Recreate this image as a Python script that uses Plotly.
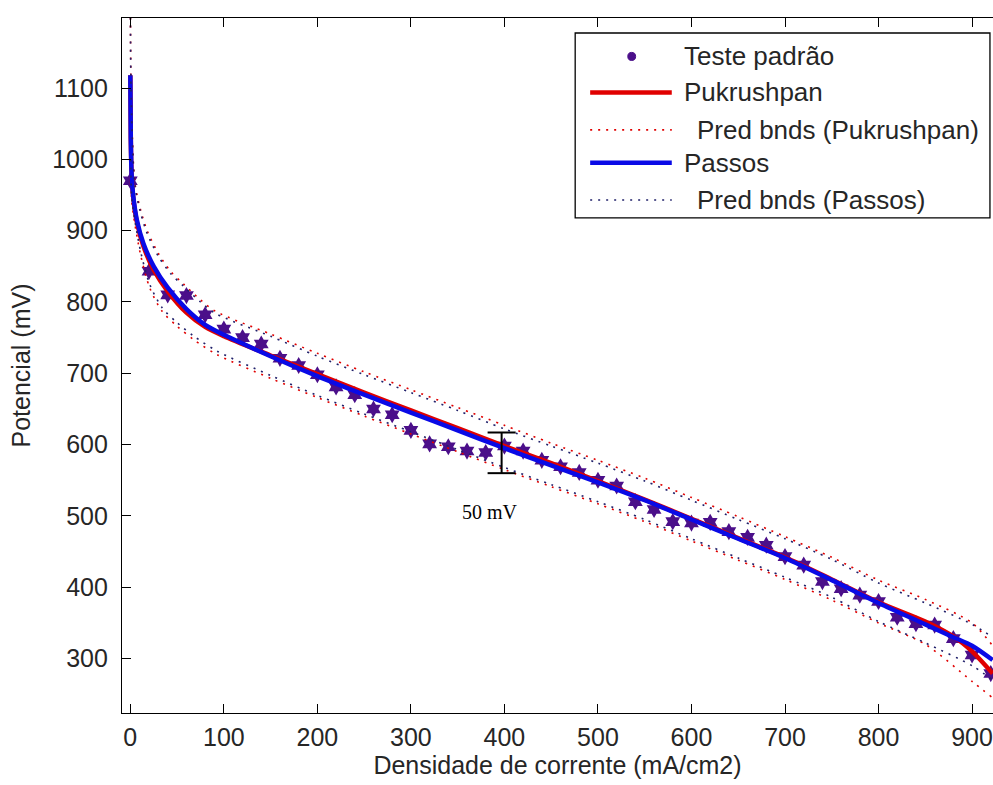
import plotly.graph_objects as go

# ---------------- data ----------------
test_x = [0, 20, 40, 60, 80, 100, 120, 140, 160, 180, 200, 220, 240, 260, 280,
          300, 320, 340, 360, 380, 400, 420, 440, 460, 480, 500, 520, 540, 560,
          580, 600, 620, 640, 660, 680, 700, 720, 740, 760, 780, 800, 820, 840,
          860, 880, 900, 920]
test_y = [970, 843, 810, 809, 782, 762, 750, 741, 721, 711, 698, 681, 670, 650, 642,
          620, 601, 597, 591, 589, 598, 591, 578, 569, 561, 550, 542, 520, 509,
          492, 490, 491, 478, 470, 459, 443, 431, 408, 398, 389, 380, 358, 349,
          347, 328, 305, 279]

curve_x = [0, 0.5, 1.5, 3, 7, 14, 25, 40, 60, 80, 100, 150, 200, 250, 300, 350,
           400, 450, 500, 550, 600, 650, 700, 750, 800, 850, 880, 900, 922]
passos_y = [1118, 1030, 975, 950, 915, 882, 850, 820, 790, 768, 754, 724, 696, 670,
            645, 620, 595, 571, 547, 522, 495, 468, 441, 410, 378, 348, 330, 318, 298]
pukrushpan_y = [1118, 1030, 975, 948, 912, 878, 845, 815, 785, 765, 752, 725, 699, 673,
                648, 623, 598, 574, 549, 523, 496, 469, 442, 411, 379, 352, 331, 310, 279]

bnd_x = [0, 1, 5, 11, 18, 30, 43, 57, 75, 91, 150, 200, 250, 300, 350, 400, 450,
         500, 550, 600, 650, 700, 750, 800, 850, 900, 922]
passos_up = [1300, 1080, 962, 925, 896, 864, 840, 822, 800, 784, 752, 724, 698, 673,
             648, 622, 598, 574, 549, 522, 495, 468, 439, 406, 378, 348, 330]
puk_up = [1300, 1085, 966, 929, 900, 868, 843, 825, 803, 787, 755, 728, 702, 677,
          652, 627, 602, 578, 553, 526, 499, 471, 442, 410, 383, 350, 318]

bnd_lo_x = [0.5, 1.8, 11, 21, 34, 50, 68, 93, 150, 200, 250, 300, 350, 400, 450,
            500, 550, 600, 650, 700, 750, 800, 850, 900, 922]
passos_lo = [1000, 943, 871, 824, 792, 771, 752, 731, 697, 669, 643, 618, 593, 568,
             544, 520, 495, 468, 441, 414, 386, 352, 322, 290, 270]
puk_lo = [995, 938, 866, 819, 787, 766, 747, 726, 693, 666, 640, 615, 590, 565,
          541, 517, 492, 465, 438, 411, 382, 350, 320, 268, 245]

x_ticks = [0, 100, 200, 300, 400, 500, 600, 700, 800, 900]
y_ticks = [300, 400, 500, 600, 700, 800, 900, 1000, 1100]

# scale-bar annotation ("50 mV")
bar_x, bar_lo, bar_hi, bar_half = 397, 560, 617, 15

# ---------------- styles ----------------
PURPLE = "#4B0F8A"
RED = "#E00000"
BLUE = "#0A0AE6"
FONT = "Liberation Sans, Arial, sans-serif"
TXT = "#262626"

fig = go.Figure()
fig.add_trace(go.Scatter(x=test_x, y=test_y, mode="markers", name="Teste padrão",
                         marker=dict(symbol="hexagram", size=13, color=PURPLE),
                         showlegend=False))
fig.add_trace(go.Scatter(x=curve_x, y=pukrushpan_y, mode="lines", name="Pukrushpan",
                         line=dict(color=RED, width=4.5, shape="spline", smoothing=0.8),
                         showlegend=False))
fig.add_trace(go.Scatter(x=bnd_x, y=puk_up, mode="lines", name="Pred bnds (Pukrushpan)",
                         line=dict(color=RED, width=1.6, dash="2px,6px", shape="spline", smoothing=0.8),
                         showlegend=False))
fig.add_trace(go.Scatter(x=bnd_lo_x, y=puk_lo, mode="lines", name="Pred bnds (Pukrushpan)",
                         line=dict(color=RED, width=1.6, dash="2px,6px", shape="spline", smoothing=0.8),
                         showlegend=False))
fig.add_trace(go.Scatter(x=curve_x, y=passos_y, mode="lines", name="Passos",
                         line=dict(color=BLUE, width=4.5, shape="spline", smoothing=0.8),
                         showlegend=False))
fig.add_trace(go.Scatter(x=bnd_x, y=passos_up, mode="lines", name="Pred bnds (Passos)",
                         line=dict(color="#20206a", width=1.6, dash="2px,6px", shape="spline", smoothing=0.8),
                         showlegend=False))
fig.add_trace(go.Scatter(x=bnd_lo_x, y=passos_lo, mode="lines", name="Pred bnds (Passos)",
                         line=dict(color="#20206a", width=1.6, dash="2px,6px", shape="spline", smoothing=0.8),
                         showlegend=False))

shapes = []
annotations = []
# scale bar
blk = dict(color="black", width=2)
shapes.append(dict(type="line", xref="x", yref="y", x0=bar_x, x1=bar_x, y0=bar_lo, y1=bar_hi, line=blk))
shapes.append(dict(type="line", xref="x", yref="y", x0=bar_x - bar_half, x1=bar_x + bar_half, y0=bar_lo, y1=bar_lo, line=blk))
shapes.append(dict(type="line", xref="x", yref="y", x0=bar_x - bar_half, x1=bar_x + bar_half, y0=bar_hi, y1=bar_hi, line=blk))
annotations.append(dict(x=bar_x - 12, y=bar_lo - 54, xref="x", yref="y", text="50 mV", showarrow=False,
                        font=dict(family="Liberation Serif, Times New Roman, serif", size=20, color="black")))

# manual legend (paper coordinates)
shapes.append(dict(type="rect", xref="paper", yref="paper", x0=0.5203, x1=0.9965, y0=0.7124, y1=0.9784,
                   line=dict(color="black", width=1.3), fillcolor="white", layer="above"))
rows = [
    ("Teste padrão", "marker", PURPLE, 0.9447, 0.6427),
    ("Pukrushpan", "solid", RED, 0.8929, 0.6427),
    ("Pred bnds (Pukrushpan)", "dot", RED, 0.8391, 0.658),
    ("Passos", "solid", BLUE, 0.7916, 0.6427),
    ("Pred bnds (Passos)", "dot", "#20206a", 0.7381, 0.658),
]
for label, kind, col, yy, tx in rows:
    if kind == "marker":
        shapes.append(dict(type="circle", xref="paper", yref="paper", x0=0.5852 - 0.0045, x1=0.5852 + 0.0045,
                           y0=yy - 0.0058, y1=yy + 0.0058, line=dict(color=col, width=1), fillcolor=col, layer="above"))
    elif kind == "solid":
        shapes.append(dict(type="line", xref="paper", yref="paper", x0=0.5375, x1=0.6312, y0=yy, y1=yy,
                           line=dict(color=col, width=4.5), layer="above"))
    else:
        shapes.append(dict(type="line", xref="paper", yref="paper", x0=0.5375, x1=0.6312, y0=yy, y1=yy,
                           line=dict(color=col, width=1.6, dash="2px,6px"), layer="above"))
    annotations.append(dict(x=tx, y=yy, xref="paper", yref="paper", text=label, showarrow=False,
                            xanchor="left", yanchor="middle", font=dict(family=FONT, size=26, color=TXT)))

fig.update_layout(
    width=993, height=785,
    margin=dict(l=122, r=0, t=18, b=72),
    paper_bgcolor="white", plot_bgcolor="white",
    font=dict(family=FONT, size=25, color=TXT),
    showlegend=False,
    shapes=shapes, annotations=annotations,
)
fig.update_xaxes(range=[-8.9, 922.4], tickvals=x_ticks, ticks="inside", ticklen=9, tickwidth=1.3,
                 tickcolor="black", showline=True, linecolor="black", linewidth=1.3, mirror="ticks",
                 showgrid=False, zeroline=False, ticklabelstandoff=2, automargin=False,
                 title=dict(text="Densidade de corrente (mA/cm2)", font=dict(size=25), standoff=2))
fig.update_yaxes(range=[223.7, 1198.2], tickvals=y_ticks, ticks="inside", ticklen=9, tickwidth=1.3,
                 tickcolor="black", showline=True, linecolor="black", linewidth=1.3,
                 showgrid=False, zeroline=False, ticklabelstandoff=8, automargin=False,
                 title=dict(text="Potencial (mV)", font=dict(size=25), standoff=14))

fig.write_html("out.html", config={"displayModeBar": False},
               post_script="document.body.style.margin='0';document.body.style.overflow='hidden';")
